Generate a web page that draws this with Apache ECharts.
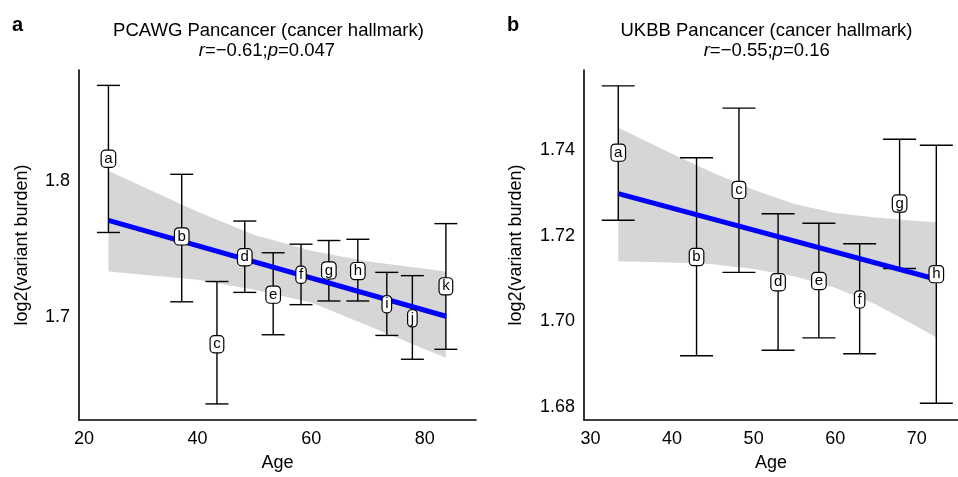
<!DOCTYPE html>
<html><head><meta charset="utf-8">
<script src="https://cdn.jsdelivr.net/npm/echarts@6/dist/echarts.min.js"></script>
<style>html,body{margin:0;padding:0;background:#fff}#c{width:958px;height:477px}</style>
</head><body><div id="c"></div>
<script>
// ---------- Panel a: PCAWG ----------
const lettersA = ['a','b','c','d','e','f','g','h','i','j','k'];
const agesA    = [24.3, 37.2, 43.4, 48.3, 53.3, 58.2, 63.1, 68.2, 73.3, 77.8, 83.7];
const meansA   = [1.8165, 1.7595, 1.6803, 1.7442, 1.7167, 1.7313, 1.7345, 1.7340, 1.7097, 1.6993, 1.7228];
const upperA   = [1.8700, 1.8047, 1.7260, 1.7704, 1.7471, 1.7534, 1.7561, 1.7570, 1.7327, 1.7303, 1.7685];
const lowerA   = [1.7620, 1.7111, 1.6361, 1.7180, 1.6869, 1.7090, 1.7117, 1.7117, 1.6864, 1.6689, 1.6762];
const fitAgesA = [24.3, 83.7];
const fitValsA = [1.7709, 1.7005];
const bandAgesA = [24.3, 30, 40, 50, 60, 70, 80, 83.7];
const bandUpA   = [1.8073, 1.7963, 1.7773, 1.7601, 1.7486, 1.7406, 1.7353, 1.7333];
const bandLoA   = [1.7333, 1.7311, 1.7273, 1.7199, 1.7106, 1.6935, 1.6763, 1.6701];
const xTicksA = [20, 40, 60, 80];
const yTicksA = [1.7, 1.8];
const titleA = 'PCAWG Pancancer (cancer hallmark)';
const statA = ['r', '=\u22120.61;', 'p', '=0.047'];

// ---------- Panel b: UKBB ----------
const lettersB = ['a','b','c','d','e','f','g','h'];
const agesB    = [33.4, 43.0, 48.2, 53.0, 58.0, 63.0, 67.9, 72.4];
const meansB   = [1.7395, 1.7151, 1.7308, 1.7092, 1.7095, 1.7052, 1.7276, 1.7111];
const upperB   = [1.7550, 1.7382, 1.7498, 1.7251, 1.7229, 1.7181, 1.7425, 1.7411];
const lowerB   = [1.7236, 1.6919, 1.7114, 1.6932, 1.6961, 1.6924, 1.7123, 1.6808];
const fitAgesB = [33.4, 72.4];
const fitValsB = [1.7298, 1.7098];
const bandAgesB = [33.4, 40, 45, 50, 55, 60, 65, 70, 72.4];
const bandUpB   = [1.7452, 1.7391, 1.7347, 1.7307, 1.7274, 1.7253, 1.7242, 1.7234, 1.7231];
const bandLoB   = [1.7140, 1.7137, 1.7133, 1.7122, 1.7105, 1.7078, 1.7039, 1.6988, 1.6962];
const xTicksB = [30, 40, 50, 60, 70];
const yTicksB = [1.68, 1.70, 1.72, 1.74];
const titleB = 'UKBB Pancancer (cancer hallmark)';
const statB = ['r', '=\u22120.55;', 'p', '=0.16'];

const panelLabels = ['a', 'b'];
const xName = 'Age';
const yName = 'log2(variant burden)';

const FONT = "'Liberation Sans', Arial, Helvetica, sans-serif";
const chart = echarts.init(document.getElementById('c'), null, {renderer: 'canvas'});

function bandRender(ages, up, lo) {
  return function (params, api) {
    if (params.dataIndex !== 0) return null;
    const pts = [];
    for (let i = 0; i < ages.length; i++) pts.push(api.coord([ages[i], up[i]]));
    for (let i = ages.length - 1; i >= 0; i--) pts.push(api.coord([ages[i], lo[i]]));
    return {type: 'polygon', shape: {points: pts}, style: {fill: '#d6d6d6'}};
  };
}
function errRender(half) {
  return function (params, api) {
    const x = api.value(0), lo = api.value(1), hi = api.value(2);
    const pT = api.coord([x, hi]), pB = api.coord([x, lo]);
    const st = {stroke: '#000', lineWidth: 1.4};
    return {type: 'group', children: [
      {type: 'line', shape: {x1: pT[0], y1: pT[1], x2: pB[0], y2: pB[1]}, style: st},
      {type: 'line', shape: {x1: pT[0] - half, y1: pT[1], x2: pT[0] + half, y2: pT[1]}, style: st},
      {type: 'line', shape: {x1: pB[0] - half, y1: pB[1], x2: pB[0] + half, y2: pB[1]}, style: st}
    ]};
  };
}
function labelRender(letters) {
  return function (params, api) {
    const p = api.coord([api.value(0), api.value(1)]);
    return {type: 'text', x: p[0], y: p[1] + 0.5, style: {
      text: letters[params.dataIndex], font: `15px ${FONT}`, fill: '#000',
      align: 'center', verticalAlign: 'middle', textAlign: 'center', textVerticalAlign: 'middle',
      backgroundColor: '#fff', borderColor: '#000', borderWidth: 1.2, borderRadius: 3.5,
      padding: [1, 2.5, 0, 2.5], lineHeight: 15}};
  };
}

function xAxisCfg(idx, min, max, ticks) {
  return {
    gridIndex: idx, type: 'value', min: min, max: max,
    name: xName, nameLocation: 'middle', nameGap: 34,
    nameTextStyle: {fontSize: 18, fontFamily: FONT, color: '#000'},
    axisLine: {show: true, onZero: false, lineStyle: {color: '#000', width: 1.6}},
    axisTick: {show: false}, splitLine: {show: false},
    axisLabel: {customValues: ticks, fontSize: 18, fontFamily: FONT, color: '#000', margin: 10,
      formatter: v => String(v)}
  };
}
function yAxisCfg(idx, min, max, ticks, dec, gap) {
  return {
    gridIndex: idx, type: 'value', min: min, max: max,
    name: yName, nameLocation: 'middle', nameGap: gap,
    nameTextStyle: {fontSize: 18, fontFamily: FONT, color: '#000'},
    axisLine: {show: true, onZero: false, lineStyle: {color: '#000', width: 1.6}},
    axisTick: {show: false}, splitLine: {show: false},
    axisLabel: {customValues: ticks, fontSize: 18, fontFamily: FONT, color: '#000', margin: 9,
      formatter: v => Number(v).toFixed(dec)}
  };
}

function panelSeries(idx, letters, ages, means, upper, lower, fitX, fitY, bAges, bUp, bLo, half) {
  return [
    {type: 'custom', xAxisIndex: idx, yAxisIndex: idx, z: 1, silent: true,
     renderItem: bandRender(bAges, bUp, bLo), data: [[bAges[0], bUp[0]]]},
    {type: 'custom', xAxisIndex: idx, yAxisIndex: idx, z: 2, silent: true,
     encode: {x: 0, y: [1, 2]}, renderItem: errRender(half),
     data: ages.map((a, i) => [a, lower[i], upper[i]])},
    {type: 'line', xAxisIndex: idx, yAxisIndex: idx, z: 3, silent: true, symbol: 'none',
     lineStyle: {color: '#0000ff', width: 5, cap: 'butt'},
     data: fitX.map((a, i) => [a, fitY[i]])},
    {type: 'custom', xAxisIndex: idx, yAxisIndex: idx, z: 4, silent: true,
     renderItem: labelRender(letters),
     data: ages.map((a, i) => [a, means[i]])}
  ];
}

function statText(parts, x, y) {
  const base = {fontSize: 18.5, fontFamily: FONT, fill: '#000', color: '#000'};
  return {type: 'text', x: x, y: y, style: {
    text: `{i|${parts[0]}}{n|${parts[1]}}{i|${parts[2]}}{n|${parts[3]}}`,
    rich: {i: Object.assign({fontStyle: 'italic'}, base), n: base},
    textAlign: 'center', align: 'center', textVerticalAlign: 'middle', verticalAlign: 'middle',
    fontSize: 18.5, fontFamily: FONT, fill: '#000'}};
}
function plainText(t, x, y, size, weight, align) {
  return {type: 'text', x: x, y: y, style: {
    text: t, font: `${weight} ${size}px ${FONT}`, fill: '#000',
    textAlign: align, align: align, textVerticalAlign: 'middle', verticalAlign: 'middle'}};
}

const option = {
  backgroundColor: '#fff',
  animation: false,
  grid: [
    {left: 79, top: 70, width: 397, height: 353},
    {left: 584, top: 70, width: 374, height: 353}
  ],
  xAxis: [xAxisCfg(0, 19.12, 89.0, xTicksA), xAxisCfg(1, 29.2, 75.06, xTicksB)],
  yAxis: [yAxisCfg(0, 1.6243, 1.8813, yTicksA, 1, 48), yAxisCfg(1, 1.6769, 1.7587, yTicksB, 2, 59)],
  series: [
    ...panelSeries(0, lettersA, agesA, meansA, upperA, lowerA, fitAgesA, fitValsA, bandAgesA, bandUpA, bandLoA, 11.5),
    ...panelSeries(1, lettersB, agesB, meansB, upperB, lowerB, fitAgesB, fitValsB, bandAgesB, bandUpB, bandLoB, 16.5)
  ],
  graphic: [
    plainText(panelLabels[0], 12, 25, 20, 'bold', 'left'),
    plainText(panelLabels[1], 507, 25, 20, 'bold', 'left'),
    plainText(titleA, 268.5, 31, 18.5, 'normal', 'center'),
    statText(statA, 267, 51),
    plainText(titleB, 766.5, 31, 18.5, 'normal', 'center'),
    statText(statB, 766.7, 51)
  ]
};
chart.setOption(option);
</script>
</body></html>
